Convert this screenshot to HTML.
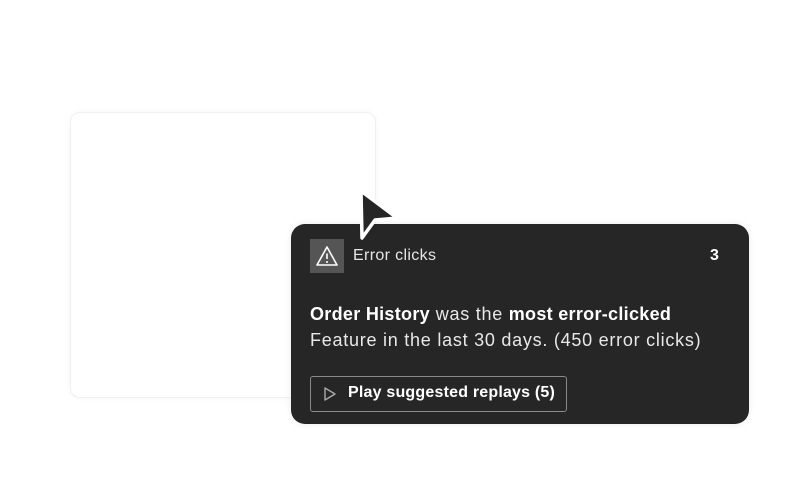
<!DOCTYPE html>
<html><head><style>
body{margin:0;width:800px;height:482px;background:#fff;position:relative;overflow:hidden;font-family:"Liberation Sans",sans-serif}
.panel{position:absolute;left:70px;top:112px;width:304px;height:284px;border:1px solid #f0f0f0;border-radius:10px;box-shadow:0 0 6px rgba(0,0,0,0.04);background:#fff}
.card{position:absolute;left:291px;top:224px;width:458px;height:200px;background:#262626;border-radius:14px;box-shadow:0 0 8px rgba(0,0,0,0.08);color:#eee}
.icon{position:absolute;left:19px;top:15px;width:34px;height:34px;background:#555}
.t1{position:absolute;left:62px;top:23px;font-size:16px;color:#e6e6e6;letter-spacing:0.35px}
.n{position:absolute;left:419px;top:23px;font-size:16px;font-weight:bold;color:#fff}
.body{position:absolute;left:19px;top:77px;font-size:18px;line-height:26px;color:#e8e8e8;letter-spacing:0.75px;white-space:nowrap}
.body b{color:#fff;letter-spacing:0.3px}
.btn{position:absolute;left:19px;top:152px;width:255px;height:34px;border:1.5px solid #8a8a8a;border-radius:3px}
.btn span{position:absolute;left:37px;top:7px;font-size:16px;font-weight:bold;color:#fff;letter-spacing:0.2px}
</style></head><body>
<div class="panel"></div>
<div class="card">
<div class="icon"><svg width="34" height="34"><path d="M17 8 L27 26 L7 26 Z" fill="none" stroke="#fff" stroke-width="1.6" stroke-linejoin="round"/><line x1="17" y1="14.5" x2="17" y2="20" stroke="#fff" stroke-width="1.6"/><circle cx="17" cy="23" r="1" fill="#fff"/></svg></div>
<div class="t1">Error clicks</div>
<div class="n">3</div>
<div class="body"><b>Order History</b> was the <b>most error-clicked</b><br>Feature in the last 30 days. (450 error clicks)</div>
<div class="btn"><svg style="position:absolute;left:12px;top:10px" width="14" height="14"><path d="M2 1 L12 7 L2 13 Z" fill="none" stroke="#aaa" stroke-width="1.4" stroke-linejoin="round"/></svg><span>Play suggested replays (5)</span></div>
</div>
<svg style="position:absolute;left:0;top:0" width="800" height="482"><path d="M361 191 L397 218 L375 220 L362 238 Z" fill="#262626" stroke="#fff" stroke-width="3.5" stroke-linejoin="round"/></svg>
</body></html>
